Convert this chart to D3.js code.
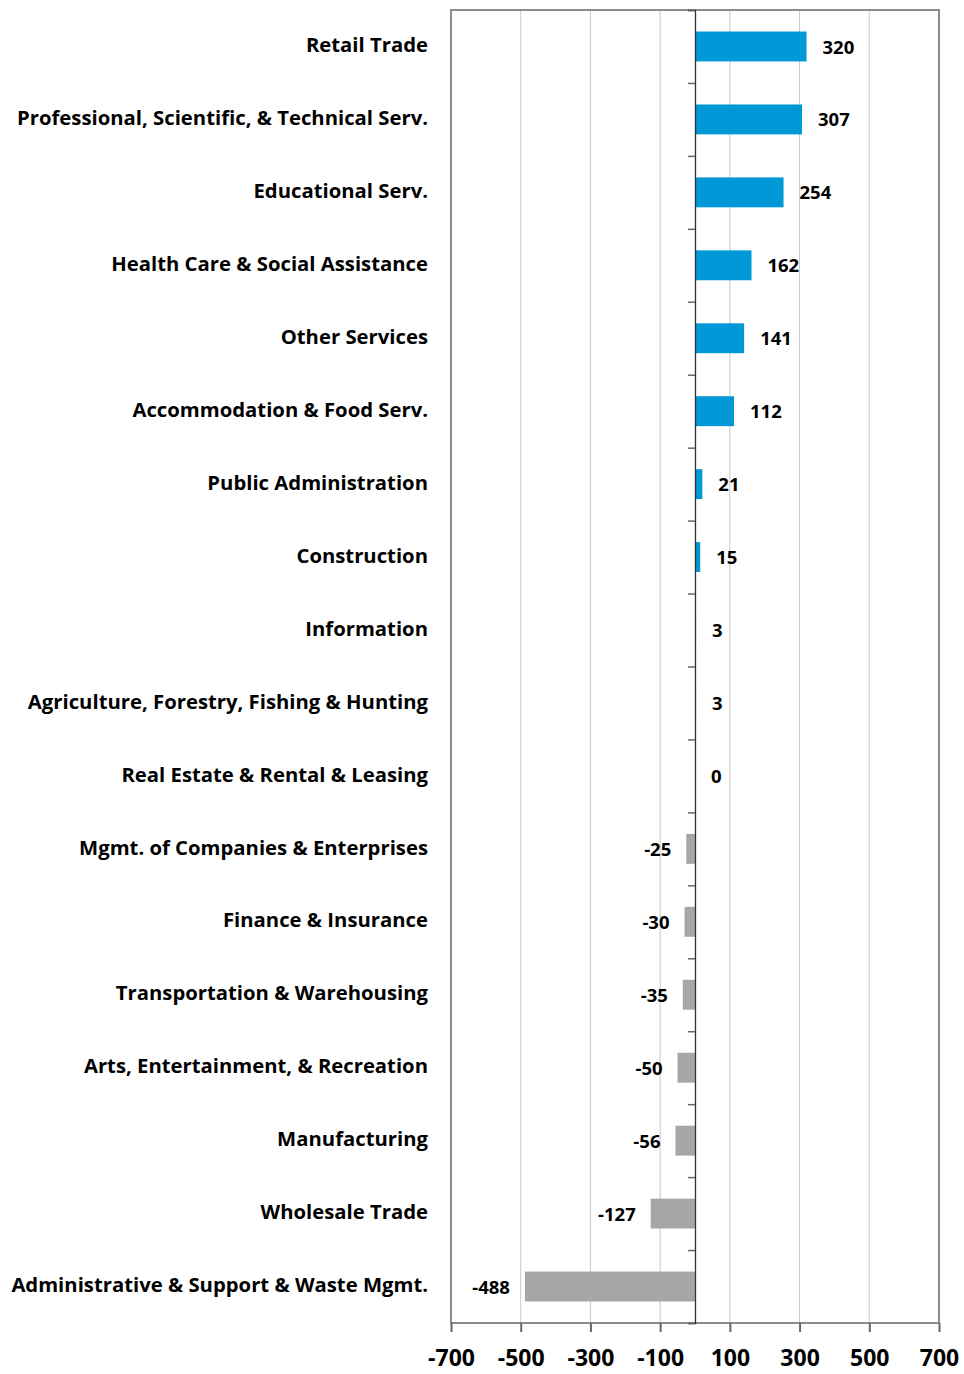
<!DOCTYPE html>
<html lang="en">
<head>
    <meta charset="utf-8">
    <title>Employment change by industry</title>
    <script src="https://d3js.org/d3.v7.min.js" charset="utf-8"></script>
    <style type="text/css">
        body { margin: 0; background: #fff; }
        text { font-family: 'Open Sans', sans-serif; font-weight: bold; fill: #000; }
    </style>
</head>
<body>
<svg id="chart"></svg>
<script type="text/javascript">

    var industries = [
        'Retail Trade',
        'Professional, Scientific, & Technical Serv.',
        'Educational Serv.',
        'Health Care & Social Assistance',
        'Other Services',
        'Accommodation & Food Serv.',
        'Public Administration',
        'Construction',
        'Information',
        'Agriculture, Forestry, Fishing & Hunting',
        'Real Estate & Rental & Leasing',
        'Mgmt. of Companies & Enterprises',
        'Finance & Insurance',
        'Transportation & Warehousing',
        'Arts, Entertainment, & Recreation',
        'Manufacturing',
        'Wholesale Trade',
        'Administrative & Support & Waste Mgmt.'
    ];
    var changes = [320, 307, 254, 162, 141, 112, 21, 15, 3, 3, 0, -25, -30, -35, -50, -56, -127, -488];
    var xTicks = [-700, -500, -300, -100, 100, 300, 500, 700];

    var width = 964, height = 1374;
    var margin = {top: 10, right: 25, bottom: 51, left: 451};

    var svg = d3.select('#chart')
            .attr('width', width)
            .attr('height', height);

    var x = d3.scaleLinear()
            .domain([-700, 700])
            .range([margin.left, width - margin.right]);

    var y = d3.scaleBand()
            .domain(industries)
            .range([margin.top, height - margin.bottom])
            .paddingInner(0.59)
            .paddingOuter(0.295);

    var plotTop = margin.top, plotBottom = height - margin.bottom;

    // vertical gridlines
    svg.append('g')
            .selectAll('line')
            .data(xTicks)
            .enter().append('line')
            .attr('x1', function (d) { return x(d); })
            .attr('x2', function (d) { return x(d); })
            .attr('y1', plotTop)
            .attr('y2', plotBottom)
            .style('stroke', '#c8c8c8')
            .style('stroke-width', 1);

    // bars
    var data = industries.map(function (name, i) { return {name: name, value: changes[i]}; });

    svg.append('g')
            .selectAll('rect')
            .data(data)
            .enter().append('rect')
            .attr('x', function (d) { return x(Math.min(0, d.value)); })
            .attr('y', function (d) { return y(d.name); })
            .attr('width', function (d) { return Math.abs(x(d.value) - x(0)); })
            .attr('height', y.bandwidth())
            .style('fill', function (d) { return d.value > 0 ? '#0098d6' : '#a6a6a6'; });

    // value labels
    svg.append('g')
            .selectAll('text')
            .data(data)
            .enter().append('text')
            .attr('x', function (d) { return d.value < 0 ? x(d.value) - 15 : x(d.value) + 16; })
            .attr('y', function (d) { return y(d.name) + y.bandwidth() / 2; })
            .attr('dy', '0.38em')
            .attr('text-anchor', function (d) { return d.value < 0 ? 'end' : 'start'; })
            .style('font-size', '18.5px')
            .text(function (d) { return d.value; });

    // plot frame
    svg.append('rect')
            .attr('x', margin.left)
            .attr('y', plotTop)
            .attr('width', x(700) - x(-700))
            .attr('height', plotBottom - plotTop)
            .style('fill', 'none')
            .style('stroke', '#8c8c8c')
            .style('stroke-width', 2);

    // zero axis with category boundary ticks
    var zeroAxis = d3.axisLeft(d3.scaleLinear().domain([0, industries.length]).range([plotTop, plotBottom]))
            .tickValues(d3.range(0, industries.length + 1))
            .tickSize(7)
            .tickFormat('');

    svg.append('g')
            .attr('transform', 'translate(' + x(0) + ',0)')
            .call(zeroAxis)
            .call(function (g) {
                g.select('.domain').style('stroke', '#333').style('stroke-width', 1.3);
                g.selectAll('.tick line').style('stroke', '#666').style('stroke-width', 1.5);
            });

    // bottom axis
    var xAxis = d3.axisBottom(x)
            .tickValues(xTicks)
            .tickSize(9)
            .tickPadding(18)
            .tickFormat(function (d) { return String(d); });

    svg.append('g')
            .attr('transform', 'translate(0,' + plotBottom + ')')
            .call(xAxis)
            .call(function (g) {
                g.select('.domain').remove();
                g.selectAll('.tick line').style('stroke', '#666').style('stroke-width', 2);
                g.selectAll('.tick text').style('font-size', '23px').style('font-family', "'Open Sans', sans-serif");
            });

    // category labels
    svg.append('g')
            .selectAll('text')
            .data(industries)
            .enter().append('text')
            .attr('x', 428)
            .attr('y', function (d) { return y(d) + y.bandwidth() / 2; })
            .attr('dy', '0.28em')
            .attr('text-anchor', 'end')
            .style('font-size', '20.3px')
            .text(function (d) { return d; });

</script>
</body>
</html>
